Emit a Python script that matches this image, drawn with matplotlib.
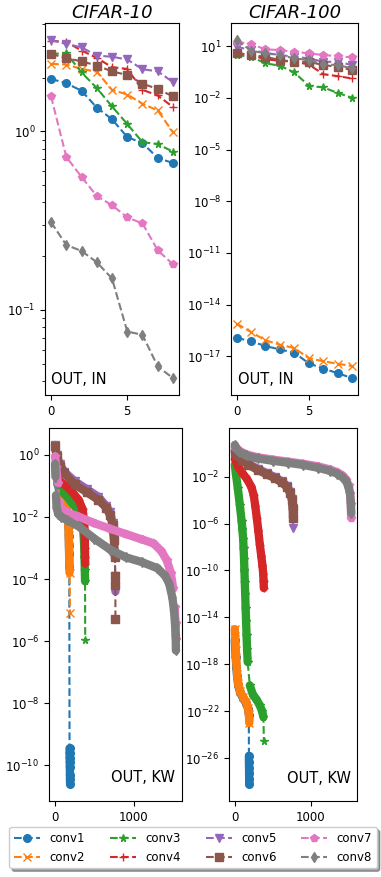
import numpy as np
import matplotlib
matplotlib.use('Agg')
from matplotlib import pyplot as plt
from matplotlib.collections import LineCollection
from matplotlib.ticker import NullLocator

# layers
layer_names = ['conv1', 'conv2', 'conv3', 'conv4', 'conv5', 'conv6', 'conv7', 'conv8']
layer_markers = ['o', 'x', '*', '+', 'v', 's', 'p', 'd']
layer_colors = ['C0', 'C1', 'C2', 'C3', 'C4', 'C5', 'C6', 'C7']

# ---- OUT, IN unfolding (9 values per layer) ----
in_index = [0, 1, 2, 3, 4, 5, 6, 7, 8]

c10_in_conv1 = [1.97, 1.86, 1.69, 1.36, 1.17, 0.93, 0.86, 0.71, 0.665]
c10_in_conv2 = [2.39, 2.37, 2.24, 2.16, 1.71, 1.61, 1.43, 1.31, 0.99]
c10_in_conv3 = [2.72, 2.74, 2.14, 1.75, 1.38, 1.10, 0.87, 0.85, 0.77]
c10_in_conv4 = [3.22, 3.17, 2.84, 2.58, 2.29, 2.24, 1.71, 1.59, 1.37]
c10_in_conv5 = [3.25, 3.09, 2.96, 2.66, 2.62, 2.53, 2.23, 2.17, 1.89]
c10_in_conv6 = [2.72, 2.57, 2.47, 2.34, 2.17, 2.07, 1.85, 1.73, 1.57]
c10_in_conv7 = [1.57, 0.72, 0.556, 0.435, 0.386, 0.33, 0.305, 0.216, 0.18]
c10_in_conv8 = [0.31, 0.231, 0.214, 0.185, 0.150, 0.0757, 0.0725, 0.0482, 0.0415]

# CIFAR-100 values given as log10
c100_in_conv1 = [-15.92, -16.13, -16.4, -16.6, -16.79, -17.4, -17.71, -17.97, -18.26]
c100_in_conv2 = [-15.1, -15.59, -16.07, -16.32, -16.52, -17.1, -17.28, -17.43, -17.56]
c100_in_conv3 = [0.48, 0.38, 0.0, -0.14, -0.53, -1.3, -1.4, -1.71, -2.0]
c100_in_conv4 = [0.58, 0.48, 0.23, 0.15, 0.09, -0.06, -0.63, -0.74, -0.88]
c100_in_conv5 = [0.96, 0.77, 0.61, 0.48, 0.38, 0.29, 0.09, 0.09, -0.1]
c100_in_conv6 = [0.61, 0.48, 0.38, 0.19, 0.09, 0.09, -0.1, -0.2, -0.39]
c100_in_conv7 = [1.25, 1.12, 0.81, 0.77, 0.67, 0.58, 0.48, 0.42, 0.34]
c100_in_conv8 = [1.35, 0.73, 0.58, 0.48, 0.29, 0.19, -0.06, -0.1, -0.29]

# ---- OUT, KW unfolding: read-off (index, log10 value) ----
c10_kw_conv1_x = [0, 10, 30, 60, 100, 140, 165, 172, 175, 177, 179, 181, 184, 185, 186, 187, 188, 189, 190, 191]
c10_kw_conv1_y = [0.25, -0.4, -0.9, -1.2, -1.5, -1.75, -2.0, -2.3, -2.6, -2.9, -3.2, -3.6, -9.45, -9.6, -9.75, -9.9, -10.05, -10.3, -10.45, -10.6]
c10_kw_conv2_x = [0, 10, 30, 60, 100, 140, 165, 172, 175, 178, 181, 184, 191]
c10_kw_conv2_y = [0.3, -0.3, -0.8, -1.1, -1.4, -1.7, -1.95, -2.35, -2.7, -3.0, -3.4, -3.8, -5.1]
c10_kw_conv3_x = [0, 8, 25, 60, 120, 200, 280, 330, 355, 368, 374, 378, 381, 383]
c10_kw_conv3_y = [0.25, -0.35, -0.75, -1.0, -1.25, -1.5, -1.75, -1.95, -2.3, -2.8, -3.3, -3.7, -4.07, -5.95]
c10_kw_conv4_x = [0, 8, 25, 60, 140, 220, 300, 350, 372, 378, 380, 382, 383]
c10_kw_conv4_y = [0.28, -0.3, -0.65, -0.85, -1.0, -1.2, -1.45, -1.75, -2.2, -2.6, -3.0, -3.3, -3.5]
c10_kw_conv5_x = [0, 20, 60, 120, 250, 400, 550, 650, 700, 730, 750, 760, 765, 767]
c10_kw_conv5_y = [0.32, 0.0, -0.3, -0.55, -0.85, -1.1, -1.35, -1.65, -1.85, -2.2, -2.7, -3.3, -3.9, -4.4]
c10_kw_conv6_x = [0, 20, 60, 120, 250, 400, 550, 650, 700, 730, 750, 760, 764, 766, 767]
c10_kw_conv6_y = [0.28, -0.05, -0.35, -0.6, -0.95, -1.2, -1.45, -1.7, -1.95, -2.25, -2.75, -3.3, -3.9, -4.2, -5.3]
c10_kw_conv7_x = [0, 15, 35, 55, 80, 150, 300, 500, 700, 900, 1100, 1250, 1350, 1420, 1470, 1500, 1520, 1530, 1535]
c10_kw_conv7_y = [-0.05, -0.4, -0.9, -1.5, -1.75, -1.85, -1.99, -2.2, -2.38, -2.55, -2.72, -2.85, -3.1, -3.4, -3.8, -4.3, -4.9, -5.4, -5.93]
c10_kw_conv8_x = [0, 5, 12, 20, 40, 80, 150, 300, 500, 700, 900, 1100, 1300, 1400, 1450, 1490, 1510, 1525, 1532, 1535]
c10_kw_conv8_y = [-0.3, -0.7, -1.3, -1.7, -1.9, -2.0, -2.1, -2.3, -2.7, -3.05, -3.3, -3.45, -3.65, -3.9, -4.15, -4.6, -5.0, -5.5, -5.8, -6.3]

c100_kw_conv1_x = [0, 5, 12, 20, 30, 45, 70, 110, 150, 175, 185, 186, 187, 188, 189, 190, 191]
c100_kw_conv1_y = [-15.9, -16.6, -17.4, -18.2, -19.0, -19.8, -20.4, -20.9, -21.3, -21.8, -22.3, -25.8, -26.3, -26.8, -27.3, -27.8, -28.2]
c100_kw_conv2_x = [0, 5, 12, 20, 30, 45, 70, 110, 150, 175, 186, 191]
c100_kw_conv2_y = [-15.0, -15.8, -16.8, -17.8, -18.8, -19.6, -20.3, -20.8, -21.2, -21.7, -22.2, -23.0]
c100_kw_conv3_x = [0, 15, 40, 66, 90, 100, 110, 116, 122, 127, 132, 137, 143, 149, 155, 162, 170, 198, 240, 286, 330, 360, 378, 383]
c100_kw_conv3_y = [-1.0, -1.8, -3.0, -4.4, -5.8, -6.5, -7.3, -8.1, -9.0, -10.0, -11.0, -12.0, -13.2, -14.3, -15.5, -16.7, -17.8, -19.8, -20.6, -21.0, -21.5, -22.0, -22.5, -24.5]
c100_kw_conv4_x = [0, 40, 100, 160, 220, 250, 270, 290, 310, 330, 350, 365, 375, 380, 383]
c100_kw_conv4_y = [-0.5, -1.1, -1.7, -2.2, -2.9, -3.6, -4.5, -5.5, -6.6, -7.8, -8.8, -9.6, -10.3, -10.9, -11.5]
c100_kw_conv5_x = [0, 30, 90, 180, 300, 420, 530, 620, 690, 730, 755, 765, 767]
c100_kw_conv5_y = [0.2, -0.1, -0.5, -0.9, -1.32, -1.7, -2.05, -2.4, -2.8, -3.3, -3.9, -4.7, -6.4]
c100_kw_conv6_x = [0, 30, 90, 180, 300, 420, 530, 620, 690, 730, 755, 765, 767]
c100_kw_conv6_y = [0.1, -0.2, -0.6, -1.0, -1.42, -1.8, -2.15, -2.5, -2.9, -3.4, -4.0, -4.8, -5.5]
c100_kw_conv7_x = [0, 5, 20, 60, 150, 300, 500, 700, 900, 1100, 1250, 1350, 1420, 1470, 1500, 1520, 1530, 1535]
c100_kw_conv7_y = [0.5, 0.55, 0.45, 0.2, -0.1, -0.35, -0.55, -0.72, -0.9, -1.13, -1.38, -1.62, -1.9, -2.25, -2.75, -3.4, -4.3, -5.5]
c100_kw_conv8_x = [0, 5, 20, 60, 150, 300, 500, 700, 900, 1100, 1250, 1350, 1420, 1470, 1500, 1520, 1530, 1535]
c100_kw_conv8_y = [0.7, 0.6, 0.4, 0.1, -0.2, -0.45, -0.65, -0.82, -1.0, -1.25, -1.5, -1.75, -2.05, -2.4, -2.9, -3.5, -4.2, -5.1]

c10_in = [c10_in_conv1, c10_in_conv2, c10_in_conv3, c10_in_conv4,
          c10_in_conv5, c10_in_conv6, c10_in_conv7, c10_in_conv8]
c100_in = [c100_in_conv1, c100_in_conv2, c100_in_conv3, c100_in_conv4,
           c100_in_conv5, c100_in_conv6, c100_in_conv7, c100_in_conv8]
c10_kw = [(c10_kw_conv1_x, c10_kw_conv1_y), (c10_kw_conv2_x, c10_kw_conv2_y),
          (c10_kw_conv3_x, c10_kw_conv3_y), (c10_kw_conv4_x, c10_kw_conv4_y),
          (c10_kw_conv5_x, c10_kw_conv5_y), (c10_kw_conv6_x, c10_kw_conv6_y),
          (c10_kw_conv7_x, c10_kw_conv7_y), (c10_kw_conv8_x, c10_kw_conv8_y)]
c100_kw = [(c100_kw_conv1_x, c100_kw_conv1_y), (c100_kw_conv2_x, c100_kw_conv2_y),
           (c100_kw_conv3_x, c100_kw_conv3_y), (c100_kw_conv4_x, c100_kw_conv4_y),
           (c100_kw_conv5_x, c100_kw_conv5_y), (c100_kw_conv6_x, c100_kw_conv6_y),
           (c100_kw_conv7_x, c100_kw_conv7_y), (c100_kw_conv8_x, c100_kw_conv8_y)]

MS = 5.5
TICK_FS = 8.5
BAND_LW = 6.0

fig = plt.figure(figsize=(3.81, 8.77), dpi=100)
ax_tl = fig.add_axes([0.118, 0.5496, 0.352, 0.424])
ax_tr = fig.add_axes([0.606, 0.5496, 0.333, 0.424])
ax_bl = fig.add_axes([0.1286, 0.0867, 0.349, 0.4253])
ax_br = fig.add_axes([0.601, 0.0867, 0.336, 0.4253])

# top row: OUT, IN
for i in range(8):
    ax_tl.plot(in_index, c10_in[i], linestyle='--', marker=layer_markers[i], color=layer_colors[i],
               markersize=MS, linewidth=1.5, label=layer_names[i])
    ax_tr.plot(in_index, 10.0 ** np.array(c100_in[i]), linestyle='--', marker=layer_markers[i],
               color=layer_colors[i], markersize=MS, linewidth=1.5)


def draw_spectra(ax, series):
    for i, (xs, ly) in enumerate(series):
        ax.plot(xs, 10.0 ** np.array(ly), linestyle='--', marker=layer_markers[i],
                color=layer_colors[i], markersize=MS, linewidth=1.5, zorder=3 + i * 0.1 + 0.05)
    ax.set_yscale('log')
    y0, y1 = np.log10(ax.get_ylim())
    px_per_dec = ax.get_window_extent().height / (y1 - y0)
    # dense markers form a thick band; emulate it where points are close vertically on screen
    for i, (xs, ly) in enumerate(series):
        pts = np.column_stack([xs, 10.0 ** np.array(ly)])
        dy = np.abs(np.diff(ly)) * px_per_dec
        segs = [pts[k:k + 2] for k in range(len(pts) - 1) if dy[k] < 18]
        lc = LineCollection(segs, colors=layer_colors[i], linewidths=BAND_LW, capstyle='round',
                            joinstyle='round', zorder=3 + i * 0.1)
        ax.add_collection(lc, autolim=False)


for ax in (ax_tl, ax_tr):
    ax.set_yscale('log')
    ax.set_xticks([0, 5])
ax_tr.set_yticks([1e1, 1e-2, 1e-5, 1e-8, 1e-11, 1e-14, 1e-17])
ax_tr.yaxis.set_minor_locator(NullLocator())

draw_spectra(ax_bl, c10_kw)
draw_spectra(ax_br, c100_kw)
for ax in (ax_bl, ax_br):
    ax.set_xticks([0, 1000])
    ax.yaxis.set_minor_locator(NullLocator())
ax_bl.set_yticks([1e0, 1e-2, 1e-4, 1e-6, 1e-8, 1e-10])
ax_br.set_yticks([1e-2, 1e-6, 1e-10, 1e-14, 1e-18, 1e-22, 1e-26])

for ax in (ax_tl, ax_tr, ax_bl, ax_br):
    ax.tick_params(labelsize=TICK_FS)

ax_tl.set_title('CIFAR-10', fontsize=13, fontstyle='italic', pad=3.5)
ax_tr.set_title('CIFAR-100', fontsize=13, fontstyle='italic', pad=3.5)

ax_tl.text(0.042, 0.03, 'OUT, IN', transform=ax_tl.transAxes, fontsize=10.5, va='baseline')
ax_tr.text(0.055, 0.03, 'OUT, IN', transform=ax_tr.transAxes, fontsize=10.5, va='baseline')
ax_bl.text(0.947, 0.05, 'OUT, KW', transform=ax_bl.transAxes, fontsize=10.5, ha='right', va='baseline')
ax_br.text(0.951, 0.049, 'OUT, KW', transform=ax_br.transAxes, fontsize=10.5, ha='right', va='baseline')

handles, labels = ax_tl.get_legend_handles_labels()
fig.legend(handles, labels, ncol=4, loc='lower center', bbox_to_anchor=(0.507, 0.003),
           fontsize=8.5, shadow=True, fancybox=True, handlelength=2.2, columnspacing=2.1)

plt.savefig('out.png', dpi=100)
plt.clf()
